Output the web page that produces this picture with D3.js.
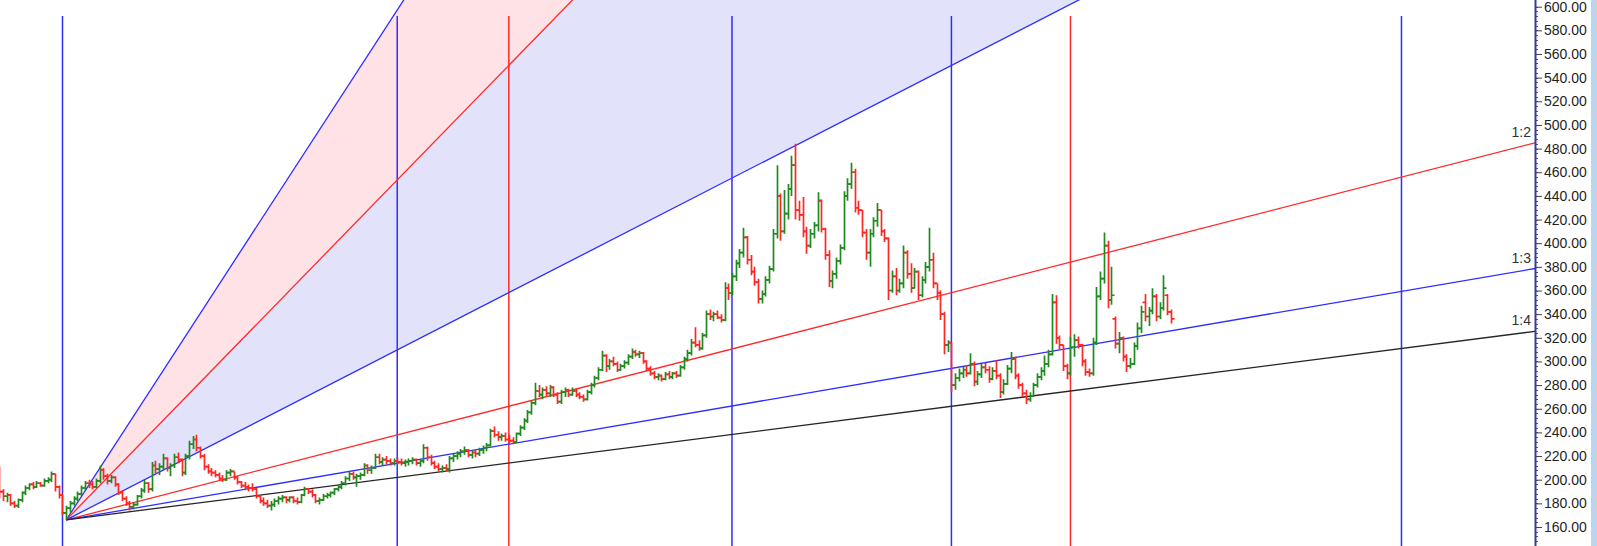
<!DOCTYPE html>
<html>
<head>
<meta charset="utf-8">
<script src="https://cdn.jsdelivr.net/npm/d3@7"></script>
<style>
  body { margin: 0; background: #fff; }
  svg { display: block; }
  .tick text { font-family: "Liberation Sans", Arial, sans-serif; font-size: 14px; fill: #1e1e1e; }
</style>
</head>
<body>
<svg id="chart" width="1597" height="546"></svg>
<script>
// bar index of the first row in prices (the fan starts near bar 0)
var firstBar = -17;

// one row per bar: open, high, low, close
var prices = [
  [205,211,184,190],[190,192,182,186],[186,189,181,187],[187,188,178,180],[180,182,176,178],
  [178,184,176,183],[183,190,181,189],[189,195,187,193],[193,197,191,196],[196,198,192,194],
  [194,199,193,197],[197,198,194,195],[195,201,194,199],[199,202,197,200],[200,207,198,205],
  [205,205,190,194],[194,195,184,187],
  [187,188,170,172],[172,178,166,176],[176,182,172,180],[180,186,178,184],[184,190,182,188],
  [188,195,186,193],[193,199,191,197],[197,200,193,196],[196,199,192,194],[194,201,193,199],
  [199,212,197,208],[208,210,200,203],[203,205,196,199],[199,204,197,202],[202,203,194,196],
  [196,197,187,189],[189,191,182,184],[184,186,178,180],[180,182,174,177],[177,181,175,179],
  [179,187,178,186],[186,193,184,191],[191,200,189,197],[197,198,189,192],[192,215,190,212],
  [212,216,205,209],[209,214,204,211],[211,222,208,218],[218,219,207,210],[210,214,203,212],
  [212,222,210,219],[219,223,214,217],[217,218,203,206],[206,222,204,220],[220,233,217,230],
  [230,237,226,234],[234,238,224,227],[227,228,218,220],[220,222,208,211],[211,213,205,207],
  [207,210,203,206],[206,208,202,204],[204,206,199,201],[201,204,198,200],[200,208,199,206],
  [206,209,203,207],[207,207,200,202],[202,203,196,198],[198,199,193,195],[195,198,191,194],
  [194,196,190,193],[193,197,190,192],[192,193,184,186],[186,187,180,182],[182,185,178,180],
  [180,183,176,178],[178,182,174,179],[179,184,177,182],[182,186,179,184],[184,187,181,185],
  [185,186,180,183],[183,186,181,185],[185,186,180,182],[182,185,179,181],[181,188,180,187],
  [187,194,186,192],[192,193,188,190],[190,192,185,187],[187,188,180,182],[182,185,179,183],
  [183,188,182,186],[186,189,184,187],[187,190,185,189],[189,193,187,192],[192,196,190,194],
  [194,199,192,197],[197,203,195,201],[201,207,199,205],[205,207,200,202],[202,205,194,203],
  [203,206,200,204],[204,214,203,212],[212,213,205,208],[208,212,205,210],[210,222,209,219],
  [219,222,213,215],[215,219,212,217],[217,220,213,216],[216,218,212,214],[214,218,212,216],
  [216,219,213,215],[215,218,212,214],[214,217,211,215],[215,218,212,216],[216,219,213,217],
  [217,218,212,214],[214,217,211,216],[216,230,214,227],[227,228,216,219],[219,221,212,214],
  [214,216,209,211],[211,214,207,209],[209,212,206,210],[210,213,207,209],[209,220,206,218],
  [218,222,215,220],[220,224,217,222],[222,226,219,224],[224,228,221,225],[225,226,219,221],
  [221,225,218,223],[223,226,219,222],[222,227,220,225],[225,229,222,227],[227,231,224,229],
  [229,243,228,241],[241,245,236,238],[238,241,233,236],[236,239,233,237],[237,240,232,234],
  [234,238,231,233],[233,236,230,232],[232,240,231,239],[239,246,237,244],[244,252,242,250],
  [250,259,248,257],[257,267,255,265],[265,282,263,275],[275,280,270,272],[272,278,268,276],
  [276,279,271,273],[273,280,270,278],[278,279,270,272],[272,274,264,266],[266,276,264,274],
  [274,278,270,276],[276,277,270,272],[272,278,271,275],[275,277,270,272],[272,274,268,270],
  [270,272,266,268],[268,276,267,274],[274,282,272,280],[280,288,278,286],[286,295,284,293],
  [293,309,292,305],[305,306,291,296],[296,302,293,300],[300,304,296,298],[298,300,291,293],
  [293,298,292,296],[296,301,294,299],[299,306,297,304],[304,311,302,308],[308,310,304,306],
  [306,309,303,307],[307,308,298,300],[300,301,292,294],[294,296,288,290],[290,292,285,287],
  [287,290,284,288],[288,289,283,285],[285,291,284,289],[289,292,285,287],[287,291,285,290],
  [290,292,286,288],[288,297,287,295],[295,304,293,302],[302,310,300,307],[307,319,305,316],
  [316,329,312,314],[314,318,309,311],[311,324,310,322],[322,343,320,340],[340,344,335,338],
  [338,342,334,340],[340,343,336,337],[337,340,333,335],[335,367,334,362],[362,366,352,358],
  [358,375,356,372],[372,386,368,383],[383,395,379,392],[392,413,388,405],[405,406,382,386],
  [386,390,373,376],[376,380,364,367],[367,370,349,353],[353,360,349,357],[357,372,355,369],
  [369,381,366,378],[378,412,376,408],[408,466,404,440],[440,442,402,410],[410,445,408,425],
  [425,450,420,446],[446,474,440,466],[466,484,420,428],[428,436,419,424],[424,439,405,410],
  [410,414,391,398],[398,412,396,408],[408,418,404,415],[415,443,410,436],[436,437,409,412],
  [412,413,386,390],[390,394,363,368],[368,377,362,374],[374,388,370,385],[385,399,382,396],
  [396,444,394,440],[440,455,436,450],[450,468,446,460],[460,463,426,430],[430,436,424,428],
  [428,428,405,409],[409,412,386,392],[392,412,380,408],[408,422,405,419],[419,434,414,428],
  [428,428,406,410],[410,412,401,404],[404,405,352,360],[360,377,358,372],[372,379,356,360],
  [360,370,358,366],[366,398,362,392],[392,394,370,374],[374,383,358,362],[362,379,362,376],
  [376,377,352,356],[356,372,354,369],[369,384,366,380],[380,413,376,386],[386,392,362,366],
  [366,366,352,358],[358,360,335,340],[340,342,306,314],[314,318,308,316],[316,316,274,280],
  [280,290,276,286],[286,294,283,290],[290,296,286,293],[293,297,287,290],[290,307,289,298],
  [298,300,279,283],[283,292,280,289],[289,298,286,295],[295,299,290,293],[293,296,282,285],
  [285,295,284,292],[292,301,285,288],[288,290,269,274],[274,285,272,281],[281,297,280,294],
  [294,308,290,302],[302,304,285,288],[288,290,277,280],[280,282,270,273],[273,276,264,268],
  [268,274,266,271],[271,282,270,280],[280,290,278,287],[287,295,284,292],[292,305,288,298],
  [298,310,295,306],[306,357,305,350],[350,356,315,320],[320,322,310,314],[314,314,292,296],
  [296,298,285,290],[290,321,288,312],[312,323,304,318],[318,321,311,314],[314,315,296,300],
  [300,302,288,291],[291,294,287,290],[290,320,288,316],[316,363,314,355],[355,376,352,370],
  [370,409,366,398],[398,402,345,352],[352,380,348,356],[336,338,311,315],[315,325,307,320],
  [320,321,300,304],[304,306,291,296],[296,303,294,298],[298,316,297,313],[313,333,310,328],
  [328,347,324,342],[350,357,334,338],[338,346,330,343],[343,362,340,355],[355,357,334,338],
  [338,350,336,345],[345,373,343,362],[356,357,339,342],[342,344,332,336]
];

// time cycle lines (bars after the start) and their colours
var cycleBars = [0, 90, 120, 180, 239, 271, 360];
var cycleKinds = ["blue", "blue", "red", "blue", "blue", "red", "blue"];

// gann fan: start [bar, price], 1x1 rise per bar, angles
var fanStart = [1, 166];
var fanUnit = 1.615;
var fanRatios = [3, 2, 1, 1/2, 1/3, 1/4];
var fanKinds = ["blue", "red", "blue", "red", "blue", "black"];
var fanLabels = ["", "", "", "1:2", "1:3", "1:4"];

var yLabels = d3.range(140, 601, 20);
var yMinor = d3.range(140, 601, 4);

var W = 1597, H = 546, plotRight = 1535;
var colors = { blue: "#2e2eff", red: "#ff2a2a", black: "#262626" };

var svg = d3.select("#chart");
var x = d3.scaleLinear().domain([-16.8, 395.9]).range([0, plotRight]);
var y = d3.scaleLinear().domain([160, 600]).range([527, 6.7]);

svg.append("rect").attr("width", W).attr("height", H).attr("fill", "#fff");
svg.append("rect").attr("x", 1591).attr("y", 0).attr("width", W - 1591).attr("height", H).attr("fill", "#bcd5ef");

svg.append("defs").append("clipPath").attr("id", "plot")
   .append("rect").attr("x", 0).attr("y", 0).attr("width", plotRight).attr("height", H);

var plot = svg.append("g").attr("clip-path", "url(#plot)");

function fanPoint(ratio, bar) {
    return [x(bar), y(fanStart[1] + (bar - fanStart[0]) * fanUnit * ratio)];
}

// shaded bands between the steep angles
var bands = [[0, 1, "#ffe2e5"], [1, 2, "#e2e2fa"]];
plot.selectAll("polygon.band")
    .data(bands)
    .enter().append("polygon")
    .attr("class", "band")
    .attr("fill", function(d) { return d[2]; })
    .attr("points", function(d) {
        return [fanPoint(0, fanStart[0]), fanPoint(fanRatios[d[0]], 400), fanPoint(fanRatios[d[1]], 400)]
               .map(function(p) { return p.join(","); }).join(" ");
    });

// time cycles
plot.selectAll("line.cycle")
    .data(cycleBars)
    .enter().append("line")
    .attr("class", "cycle")
    .attr("x1", function(d) { return x(d); })
    .attr("x2", function(d) { return x(d); })
    .attr("y1", 16)
    .attr("y2", H)
    .attr("stroke", function(d, i) { return colors[cycleKinds[i]]; })
    .attr("stroke-width", 1.5);

// fan lines
plot.selectAll("line.fan")
    .data(fanRatios)
    .enter().append("line")
    .attr("class", "fan")
    .attr("x1", x(fanStart[0]))
    .attr("y1", y(fanStart[1]))
    .attr("x2", function(d) { return fanPoint(d, 400)[0]; })
    .attr("y2", function(d) { return fanPoint(d, 400)[1]; })
    .attr("stroke", function(d, i) { return colors[fanKinds[i]]; })
    .attr("stroke-width", 1.3);

// price bars
plot.selectAll("path.bar")
    .data(prices)
    .enter().append("path")
    .attr("class", "bar")
    .attr("fill", "none")
    .attr("stroke-width", 1.7)
    .attr("stroke", function(d) { return d[3] >= d[0] ? "#1f8a1f" : "#ff2626"; })
    .attr("d", function(d, i) {
        var cx = Math.round(x(firstBar + i)) + 0.5;
        return "M" + cx + "," + y(d[1]) + "V" + y(d[2]) +
               "M" + (cx - 3) + "," + y(d[0]) + "H" + cx +
               "M" + cx + "," + y(d[3]) + "H" + (cx + 3);
    });

// angle labels at the right edge
svg.selectAll("text.fanlabel")
    .data(fanRatios.filter(function(d, i) { return fanLabels[i]; }))
    .enter().append("text")
    .attr("class", "fanlabel")
    .attr("x", plotRight - 4)
    .attr("y", function(d) { return fanPoint(d, x.invert(plotRight))[1] - 6; })
    .attr("text-anchor", "end")
    .style("font-family", "'Liberation Sans', Arial, sans-serif")
    .style("font-size", "14px")
    .style("fill", "#333")
    .text(function(d) { return fanLabels[fanRatios.indexOf(d)]; });

// price axis
var axisG = svg.append("g").attr("transform", "translate(" + plotRight + ",0)");
axisG.selectAll("line.minor")
    .data(yMinor)
    .enter().append("line")
    .attr("class", "minor")
    .attr("x1", 0).attr("x2", 3)
    .attr("y1", function(d) { return Math.round(y(d)) + 0.5; })
    .attr("y2", function(d) { return Math.round(y(d)) + 0.5; })
    .attr("stroke", "#555");

var axis = d3.axisRight(y)
    .tickValues(yLabels)
    .tickFormat(d3.format(".2f"))
    .tickSize(7)
    .tickPadding(2);
axisG.call(axis);
axisG.select(".domain").remove();
axisG.selectAll(".tick line").attr("stroke", "#444");

svg.append("line")
   .attr("x1", plotRight + 0.5).attr("x2", plotRight + 0.5)
   .attr("y1", 0).attr("y2", H)
   .attr("stroke", "#3b3b94").attr("stroke-width", 2);
</script>
</body>
</html>
